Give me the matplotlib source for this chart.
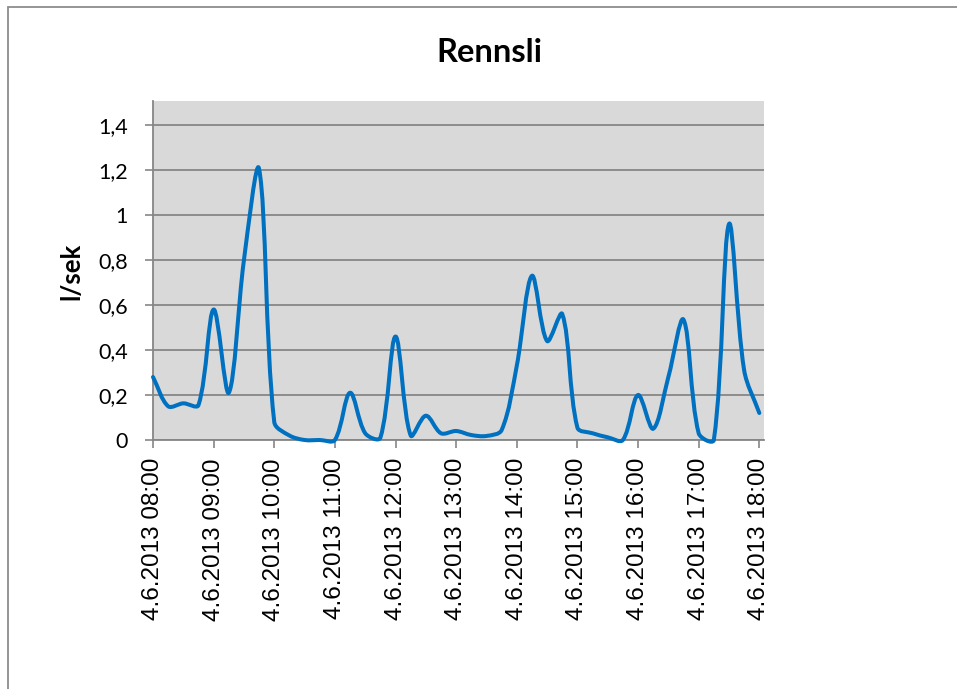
import matplotlib
matplotlib.use("Agg")
import matplotlib.pyplot as plt
from matplotlib.path import Path
from matplotlib.patches import PathPatch, Rectangle
import numpy as np

# ---- data (15-minute readings, 08:00 - 18:00) ----
times = ["08:00", "08:15", "08:30", "08:45", "09:00", "09:15", "09:30", "09:45",
         "10:00", "10:15", "10:30", "10:45", "11:00", "11:15", "11:30", "11:45",
         "12:00", "12:15", "12:30", "12:45", "13:00", "13:15", "13:30", "13:45",
         "14:00", "14:15", "14:30", "14:45", "15:00", "15:15", "15:30", "15:45",
         "16:00", "16:15", "16:30", "16:45", "17:00", "17:15", "17:30", "17:45",
         "18:00"]
flow = [0.28, 0.15, 0.163, 0.155, 0.58, 0.21, 0.80, 1.205,
        0.08, 0.02, 0.0, 0.0, 0.0, 0.21, 0.03, 0.01,
        0.46, 0.02, 0.108, 0.03, 0.04, 0.022, 0.018, 0.044,
        0.33, 0.73, 0.44, 0.56, 0.055, 0.03, 0.012, 0.0,
        0.20, 0.05, 0.28, 0.535, 0.03, 0.0, 0.96, 0.31,
        0.12]
tick_labels = ["4.6.2013 08:00", "4.6.2013 09:00", "4.6.2013 10:00", "4.6.2013 11:00",
               "4.6.2013 12:00", "4.6.2013 13:00", "4.6.2013 14:00", "4.6.2013 15:00",
               "4.6.2013 16:00", "4.6.2013 17:00", "4.6.2013 18:00"]
y_ticks = [0, 0.2, 0.4, 0.6, 0.8, 1.0, 1.2, 1.4]
y_tick_labels = ["0", "0,2", "0,4", "0,6", "0,8", "1", "1,2", "1,4"]

W, H = 957, 689
fig = plt.figure(figsize=(W / 100, H / 100), dpi=100)
fig.patch.set_facecolor("white")

# chart frame (top and left edges visible)
fig.add_artist(Rectangle((8 / W, -0.05), 1.0, (H - 6.5) / H + 0.05,
                         transform=fig.transFigure, fill=False,
                         edgecolor="#8c8c8c", linewidth=1.3))

ax = fig.add_axes([153 / W, (H - 440) / H, (764 - 153) / W, (440 - 101) / H])
ax.set_facecolor("#d9d9d9")
ax.set_xlim(0, 40.31)
ax.set_ylim(0, 1.507)

x = np.arange(len(flow), dtype=float)
y = np.array(flow, dtype=float)

# Excel-like smoothed line: Bezier segments with length-weighted tangents
pts_disp = ax.transData.transform(np.column_stack([x, y]))
n = len(x)
verts = [(x[0], y[0])]
codes = [Path.MOVETO]
inv = ax.transData.inverted()
for i in range(n - 1):
    p0 = pts_disp[max(i - 1, 0)]
    p1 = pts_disp[i]
    p2 = pts_disp[i + 1]
    p3 = pts_disp[min(i + 2, n - 1)]
    d01 = np.hypot(*(p1 - p0))
    d12 = np.hypot(*(p2 - p1))
    d23 = np.hypot(*(p3 - p2))
    f1 = d12 / (d01 + d12) if (d01 + d12) > 0 else 0
    f2 = d12 / (d12 + d23) if (d12 + d23) > 0 else 0
    c1 = p1 + (p2 - p0) * f1 / 3.0
    c2 = p2 - (p3 - p1) * f2 / 3.0
    c1d, c2d, p2d = inv.transform(np.array([c1, c2, p2]))
    verts += [tuple(c1d), tuple(c2d), tuple(p2d)]
    codes += [Path.CURVE4, Path.CURVE4, Path.CURVE4]
ax.add_patch(PathPatch(Path(verts, codes), facecolor="none", edgecolor="#0070c0",
                       linewidth=2.9, capstyle="round", joinstyle="round",
                       zorder=3, clip_on=False))

ax.set_yticks(y_ticks)
ax.set_yticklabels(y_tick_labels, fontfamily="Lato", fontsize=15.5)
ax.set_xticks(x[::4])
ax.set_xticklabels(tick_labels, rotation=90, fontfamily="Liberation Sans", fontsize=17.5)

ax.yaxis.grid(True, color="#868686", linewidth=1.3)
ax.set_axisbelow(True)
for s in ["top", "right"]:
    ax.spines[s].set_visible(False)
for s in ["left", "bottom"]:
    ax.spines[s].set_color("#868686")
    ax.spines[s].set_linewidth(1.3)
ax.tick_params(axis="both", direction="out", length=6, width=1.2, color="#868686")
ax.tick_params(axis="y", pad=12)
ax.tick_params(axis="x", pad=7)

fig.text(71 / W, 1 - 271 / H, "l/sek", rotation=90, ha="center", va="center",
         fontfamily="Lato", fontweight="bold", fontsize=18.5)
fig.text(489 / W, 1 - 53 / H, "Rennsli", ha="center", va="center",
         fontfamily="Lato", fontweight="bold", fontsize=23.5)

fig.savefig("out.png", dpi=100)
